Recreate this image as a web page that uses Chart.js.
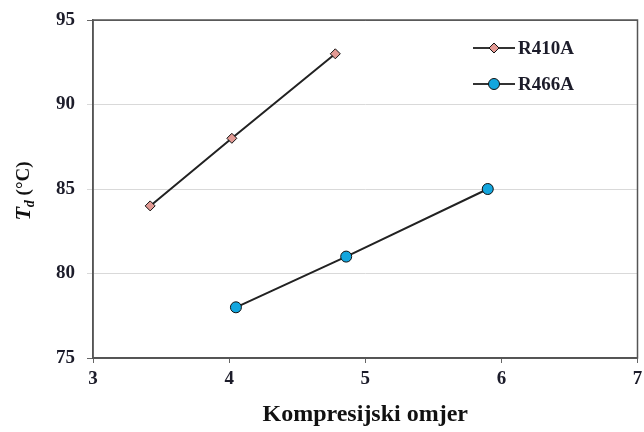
<!DOCTYPE html>
<html><head><meta charset="utf-8">
<script src="https://cdn.jsdelivr.net/npm/chart.js@4/dist/chart.umd.min.js"></script>
<style>html,body{margin:0;padding:0;background:#fff}#w{width:644px;height:432px}</style>
</head><body><div id="w"><canvas id="c" width="644" height="432"></canvas></div>
<script>
const seriesNames = ["R410A", "R466A"];
const r410aX = [3.42, 4.02, 4.78];
const r410aY = [84, 88, 93];
const r466aX = [4.05, 4.86, 5.90];
const r466aY = [78, 81, 85];
const xTicks = [3, 4, 5, 6, 7];
const yTicks = [75, 80, 85, 90, 95];
const xTitle = "Kompresijski omjer";

const toPts = (xs, ys) => xs.map((x, i) => ({x, y: ys[i]}));
const serif = "'Liberation Serif', 'Times New Roman', serif";
const textCol = "#1c1c2a";

const styles = [
  {pointStyle: 'rectRot', radius: 5, fill: '#e39a94'},
  {pointStyle: 'circle', radius: 5.5, fill: '#13a6de'}
];

const noPad = () => ({left: 0, top: 0, right: 0, bottom: 0});

const extras = {
  id: 'extras',
  afterDraw(chart) {
    const {ctx, chartArea: a} = chart;
    ctx.save();
    ctx.strokeStyle = '#555';
    ctx.lineWidth = 1.5;
    ctx.strokeRect(a.left, a.top, a.right - a.left, a.bottom - a.top);
    const lx = 473, lw = 42;
    [48, 84].forEach((ly, i) => {
      ctx.strokeStyle = '#333';
      ctx.lineWidth = 2;
      ctx.beginPath(); ctx.moveTo(lx, ly); ctx.lineTo(lx + lw, ly); ctx.stroke();
      ctx.fillStyle = styles[i].fill;
      ctx.strokeStyle = '#111';
      ctx.lineWidth = 1;
      ctx.beginPath();
      const cx = lx + lw / 2, r = styles[i].radius;
      if (styles[i].pointStyle === 'circle') { ctx.arc(cx, ly, r, 0, Math.PI * 2); }
      else { ctx.moveTo(cx, ly - r); ctx.lineTo(cx + r, ly); ctx.lineTo(cx, ly + r); ctx.lineTo(cx - r, ly); ctx.closePath(); }
      ctx.fill(); ctx.stroke();
      ctx.fillStyle = textCol;
      ctx.font = `bold 19px ${serif}`;
      ctx.textBaseline = 'middle';
      ctx.textAlign = 'left';
      ctx.fillText(seriesNames[i], lx + lw + 3, ly + 1);
    });
    ctx.translate(24, 191);
    ctx.rotate(-Math.PI / 2);
    ctx.textBaseline = 'middle';
    ctx.fillStyle = '#111';
    const p1 = 'T', p2 = 'd', p3 = ' (°C)';
    ctx.font = `italic bold 22px ${serif}`; const w1 = ctx.measureText(p1).width;
    ctx.font = `italic bold 14px ${serif}`; const w2 = ctx.measureText(p2).width;
    ctx.font = `bold 19px ${serif}`; const w3 = ctx.measureText(p3).width;
    let x0 = -(w1 + w2 + w3) / 2;
    ctx.textAlign = 'left';
    ctx.font = `italic bold 22px ${serif}`; ctx.fillText(p1, x0, 0); x0 += w1;
    ctx.font = `italic bold 14px ${serif}`; ctx.fillText(p2, x0, 6); x0 += w2;
    ctx.font = `bold 19px ${serif}`; ctx.fillText(p3, x0, 0);
    ctx.restore();
  }
};

new Chart(document.getElementById('c'), {
  type: 'scatter',
  data: {
    datasets: [
      {label: seriesNames[0], data: toPts(r410aX, r410aY), showLine: true, borderColor: '#222', borderWidth: 2,
       pointStyle: styles[0].pointStyle, pointRadius: styles[0].radius, pointBackgroundColor: styles[0].fill,
       pointBorderColor: '#111', pointBorderWidth: 1},
      {label: seriesNames[1], data: toPts(r466aX, r466aY), showLine: true, borderColor: '#222', borderWidth: 2,
       pointStyle: styles[1].pointStyle, pointRadius: styles[1].radius, pointBackgroundColor: styles[1].fill,
       pointBorderColor: '#111', pointBorderWidth: 1}
    ]
  },
  options: {
    responsive: false, animation: false,
    layout: {padding: {left: 0, right: 3, top: 20, bottom: 0}},
    plugins: {legend: {display: false}, tooltip: {enabled: false}},
    scales: {
      x: {
        type: 'linear', min: 3, max: 7,
        afterBuildTicks: s => { s.ticks = xTicks.map(v => ({value: v})); },
        afterFit: s => { s.height = 74; s.paddingRight = 0; s.paddingLeft = 0; s.getPadding = noPad; },
        ticks: {color: textCol, font: {family: serif, size: 19, weight: 'bold'}, padding: 5},
        grid: {drawOnChartArea: false, color: '#666', tickLength: 5},
        border: {color: '#555', width: 1.5},
        title: {display: true, text: xTitle, color: '#111', font: {family: serif, size: 24, weight: 'bold'}, padding: {top: 4, bottom: 3}}
      },
      y: {
        type: 'linear', min: 75, max: 95,
        afterBuildTicks: s => { s.ticks = yTicks.map(v => ({value: v})); },
        afterFit: s => { s.width = 93; s.paddingTop = 0; s.paddingBottom = 0; s.getPadding = noPad; },
        ticks: {color: textCol, font: {family: serif, size: 19, weight: 'bold'}, padding: 12},
        grid: {color: c => (c.tick && (c.tick.value === 75 || c.tick.value === 95)) ? '#666' : '#d9d9d9', tickLength: 6, lineWidth: 1},
        border: {color: '#555', width: 1.5}
      }
    }
  },
  plugins: [extras]
});
</script></body></html>
